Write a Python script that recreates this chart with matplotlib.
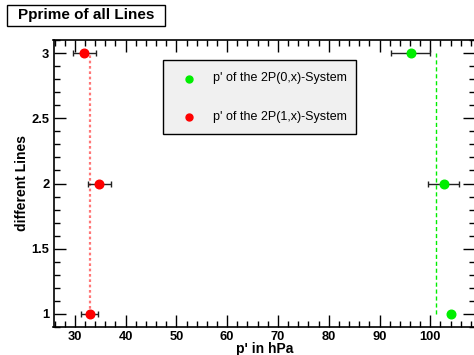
import matplotlib
matplotlib.use("Agg")
import matplotlib.pyplot as plt
from matplotlib.patches import Rectangle
from matplotlib.lines import Line2D
from matplotlib.ticker import MultipleLocator
import numpy as np

plt.rcParams['font.family'] = ['Liberation Sans', 'DejaVu Sans']

# data
lines_idx = [1, 2, 3]
p0_values = [104.0, 102.6, 96.1]
p0_errors = [0.0, 3.0, 3.8]
p1_values = [32.9, 34.8, 31.9]
p1_errors = [1.7, 2.3, 2.3]
p0_mean = 101.1
p1_mean = 33.0
title = "Pprime of all Lines"
xlabel = "p' in hPa"
ylabel = "different Lines"
legend_labels = ["p' of the 2P(0,x)-System", "p' of the 2P(1,x)-System"]

W, H = 474, 355
fig = plt.figure(figsize=(W / 100, H / 100), dpi=100)
left, right, top, bottom = 53.5, 475.0, 40.0, 327.0
ax = fig.add_axes([left / W, 1 - bottom / H, (right - left) / W, (bottom - top) / H])

green = '#00ee00'
red = '#ff0000'

ax.plot([p1_mean, p1_mean], [lines_idx[0], lines_idx[-1]], color='#ff7777',
        lw=1.6, ls=(0, (1.2, 1.2)), zorder=1)
ax.plot([p0_mean, p0_mean], [lines_idx[0], lines_idx[-1]], color=green,
        lw=1.0, ls=(0, (3, 2)), zorder=1)

for vals, errs, col in [(p0_values, p0_errors, green), (p1_values, p1_errors, red)]:
    ax.errorbar(vals, lines_idx, xerr=errs, fmt='none', ecolor='#222222',
                elinewidth=1.0, capsize=2.2, capthick=1.0, zorder=2)
    ax.plot(vals, lines_idx, 'o', color=col, ms=6.2, mec=col, zorder=3)

ax.set_xlim(25.8, 108.8)
ax.set_ylim(0.9, 3.1)
ax.xaxis.set_major_locator(MultipleLocator(10))
ax.xaxis.set_minor_locator(MultipleLocator(2))
ax.yaxis.set_major_locator(MultipleLocator(0.5))
ax.yaxis.set_minor_locator(MultipleLocator(0.1))
ax.tick_params(which='both', direction='in', top=True, right=True, width=1.0, color='black')
ax.tick_params(which='major', length=8.5, labelsize=9.3, pad=3)
ax.tick_params(which='minor', length=4.5)
ax.set_xticks(np.arange(30, 101, 10))
ax.set_xticklabels([str(v) for v in range(30, 101, 10)], fontweight='bold')
ax.set_yticks([1, 1.5, 2, 2.5, 3])
ax.set_yticklabels(['1', '1.5', '2', '2.5', '3'], fontweight='bold')
for s in ax.spines.values():
    s.set_linewidth(1.2)

fig.text(22 / W, 1 - 183 / H, ylabel, rotation=90, ha='center', va='center',
         fontsize=10, fontweight='bold')
fig.text(265 / W, 1 - 349 / H, xlabel, ha='center', va='center',
         fontsize=10, fontweight='bold')

# title box
fig.patches.append(Rectangle((7 / W, 1 - 26 / H), 158 / W, 21 / H, transform=fig.transFigure,
                             facecolor='white', edgecolor='black', lw=1.0))
fig.text(86 / W, 1 - 15.5 / H, title, ha='center', va='center', fontsize=11, fontweight='bold')

# legend box
fig.patches.append(Rectangle((163 / W, 1 - 134 / H), 193 / W, 74 / H, transform=fig.transFigure,
                             facecolor='#f0f0f0', edgecolor='black', lw=1.0, zorder=5))
for yy, col, lab in [(78.5, green, legend_labels[0]), (117, red, legend_labels[1])]:
    fig.lines.append(Line2D([189 / W], [1 - yy / H], marker='o', color=col, ms=5,
                            transform=fig.transFigure, zorder=6))
    fig.text(213 / W, 1 - yy / H, lab, ha='left', va='center', fontsize=9, zorder=6)

fig.savefig('out.png', dpi=100)
